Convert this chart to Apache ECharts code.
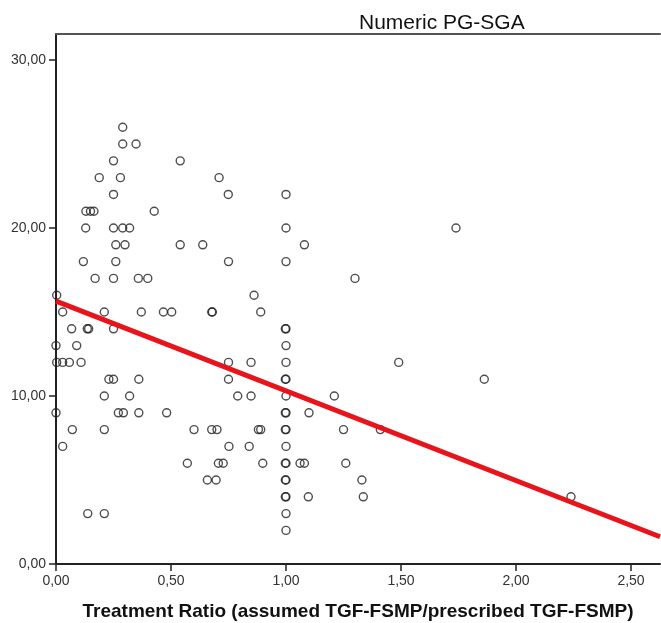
<!DOCTYPE html>
<html>
<head>
<meta charset="utf-8">
<script src="https://cdn.jsdelivr.net/npm/echarts@6/dist/echarts.min.js"></script>
<style>
  html, body { margin: 0; padding: 0; background: #fff; }
  #chart { width: 661px; height: 623px; }
</style>
</head>
<body>
<div id="chart"></div>
<script>
// values
var treatmentRatio = [
  0.29,
  0.29, 0.348,
  0.25, 0.54,
  0.188, 0.28, 0.709,
  0.25, 0.749, 1.0,
  0.13, 0.15, 0.165, 0.427,
  0.129, 0.25, 0.29, 0.32, 1.0, 1.739,
  0.26, 0.30, 0.54, 0.638, 1.08,
  0.119, 0.26, 0.75, 1.0,
  0.17, 0.25, 0.358, 0.399, 1.30,
  0.003, 0.861,
  0.029, 0.21, 0.371, 0.467, 0.503, 0.677, 0.68, 0.89,
  0.068, 0.136, 0.142, 0.25, 1.0, 0.997,
  0.0, 0.09, 1.0,
  0.003, 0.029, 0.058, 0.109, 0.75, 0.848, 1.0, 1.49,
  0.23, 0.25, 0.36, 0.75, 1.0, 0.997, 1.862,
  0.21, 0.32, 0.79, 0.848, 1.0, 1.21,
  0.0, 0.271, 0.293, 0.36, 0.481, 1.0, 0.997, 1.10,
  0.071, 0.21, 0.60, 0.677, 0.70, 0.88, 0.89, 1.0, 0.997, 1.25, 1.41,
  0.029, 0.752, 0.84, 1.0,
  0.571, 0.706, 0.727, 0.899, 1.0, 0.997, 1.061, 1.08, 1.26,
  0.658, 0.696, 1.0, 0.997, 1.33,
  1.0, 0.997, 1.097, 1.336, 2.239,
  0.138, 0.21, 1.0,
  1.0
]
var pgSga = [
  26,
  25, 25,
  24, 24,
  23, 23, 23,
  22, 22, 22,
  21, 21, 21, 21,
  20, 20, 20, 20, 20, 20,
  19, 19, 19, 19, 19,
  18, 18, 18, 18,
  17, 17, 17, 17, 17,
  16, 16,
  15, 15, 15, 15, 15, 15, 15, 15,
  14, 14, 14, 14, 14, 14,
  13, 13, 13,
  12, 12, 12, 12, 12, 12, 12, 12,
  11, 11, 11, 11, 11, 11, 11,
  10, 10, 10, 10, 10, 10,
  9, 9, 9, 9, 9, 9, 9, 9,
  8, 8, 8, 8, 8, 8, 8, 8, 8, 8, 8,
  7, 7, 7, 7,
  6, 6, 6, 6, 6, 6, 6, 6, 6,
  5, 5, 5, 5, 5,
  4, 4, 4, 4, 4,
  3, 3, 3,
  2
]
// fit line ends as drawn
var fitX = [0, 2.626]
var fitY = [15.65, 1.62]

var xTicks = [0, 0.5, 1, 1.5, 2, 2.5]
var yTicks = [0, 10, 20, 30]
var xMax = 2.626
var yMax = 31.55

var points = treatmentRatio.map(function (x, i) { return [x, pgSga[i]] })
var fitLine = fitX.map(function (x, i) { return [x, fitY[i]] })

var fmt = function (v) { return v.toFixed(2).replace('.', ',') }

var font = "'Liberation Sans', Arial, sans-serif"
var chart = echarts.init(document.getElementById('chart'))

chart.setOption({
  animation: false,
  title: {
    text: 'Numeric PG-SGA',
    left: 354,
    top: 8,
    textStyle: { fontFamily: font, fontSize: 21, fontWeight: 'normal', color: '#111' }
  },
  grid: { left: 56, right: 1, top: 34, bottom: 59, show: false, containLabel: false, outerBoundsMode: 'none' },
  xAxis: [{
    type: 'value',
    min: 0,
    max: xMax,
    interval: 0.5,
    splitLine: { show: false },
    axisLine: { show: true, onZero: false, lineStyle: { color: '#222', width: 2 } },
    axisTick: { show: true, length: 7, customValues: xTicks, lineStyle: { color: '#222', width: 1.5 } },
    axisLabel: { customValues: xTicks, formatter: fmt, margin: 10, fontFamily: font, fontSize: 14, color: '#333' },
    name: 'Treatment Ratio (assumed TGF-FSMP/prescribed TGF-FSMP)',
    nameLocation: 'middle',
    nameGap: 38,
    nameTextStyle: { fontFamily: font, fontSize: 19, fontWeight: 'bold', color: '#111' }
  }, {
    type: 'value',
    position: 'top',
    min: 0,
    max: xMax,
    splitLine: { show: false },
    axisLine: { show: true, onZero: false, lineStyle: { color: '#555', width: 2 } },
    axisTick: { show: false },
    axisLabel: { show: false }
  }],
  yAxis: {
    type: 'value',
    min: 0,
    max: yMax,
    interval: 10,
    splitLine: { show: false },
    axisLine: { show: true, onZero: false, lineStyle: { color: '#222', width: 2 } },
    axisTick: { show: true, length: 7, customValues: yTicks, lineStyle: { color: '#222', width: 1.5 } },
    axisLabel: { customValues: yTicks, formatter: fmt, margin: 10, fontFamily: font, fontSize: 14, color: '#333' }
  },
  series: [{
    type: 'scatter',
    data: points,
    symbol: 'circle',
    symbolSize: 8,
    itemStyle: { color: 'rgba(255,255,255,0)', borderColor: '#222', borderWidth: 1.4 }
  }, {
    type: 'line',
    data: fitLine,
    symbol: 'none',
    lineStyle: { color: '#e8141b', width: 5 }
  }]
})
</script>
</body>
</html>
